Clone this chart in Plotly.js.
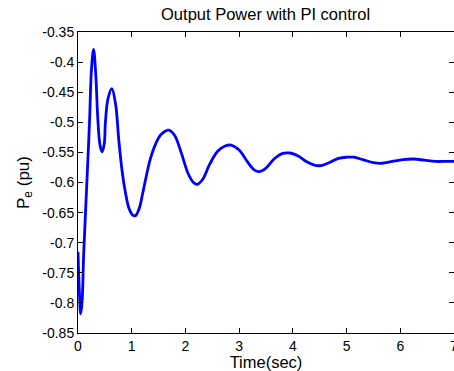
<!DOCTYPE html>
<html>
<head>
<meta charset="utf-8">
<script src="https://cdn.plot.ly/plotly-3.0.1.min.js"></script>
<style>
html,body{margin:0;padding:0;background:#fff;}
#chart{width:454px;height:371px;}
</style>
</head>
<body>
<div id="chart"></div>
<script>
var timeSec = [0.00, 0.025, 0.05, 0.075, 0.105, 0.14, 0.17, 0.216, 0.25, 0.29, 0.33, 0.37, 0.41, 0.45, 0.49, 0.51, 0.56, 0.63, 0.70, 0.76, 0.82, 0.88, 0.95, 1.02, 1.07, 1.14, 1.20, 1.27, 1.35, 1.45, 1.55, 1.69, 1.80, 1.92, 2.05, 2.15, 2.22, 2.32, 2.45, 2.60, 2.75, 2.85, 3.00, 3.15, 3.28, 3.37, 3.50, 3.65, 3.80, 3.95, 4.10, 4.25, 4.40, 4.52, 4.65, 4.85, 5.00, 5.13, 5.30, 5.50, 5.66, 5.85, 6.05, 6.25, 6.45, 6.65, 6.85, 7.00];
var powerPu = [-0.715, -0.78, -0.818, -0.80, -0.72, -0.65, -0.59, -0.496, -0.413, -0.379, -0.42, -0.496, -0.538, -0.549, -0.535, -0.50, -0.46, -0.444, -0.47, -0.53, -0.58, -0.615, -0.643, -0.654, -0.655, -0.643, -0.62, -0.59, -0.56, -0.535, -0.52, -0.513, -0.522, -0.55, -0.585, -0.600, -0.603, -0.595, -0.57, -0.548, -0.539, -0.538, -0.546, -0.565, -0.579, -0.582, -0.576, -0.561, -0.552, -0.551, -0.556, -0.565, -0.571, -0.572, -0.568, -0.560, -0.558, -0.558, -0.562, -0.567, -0.568, -0.565, -0.562, -0.561, -0.563, -0.565, -0.565, -0.565];
var xTickVals = [0, 1, 2, 3, 4, 5, 6, 7];
var xTickText = ["0", "1", "2", "3", "4", "5", "6", "7"];
var yTickVals = [-0.85, -0.8, -0.75, -0.7, -0.65, -0.6, -0.55, -0.5, -0.45, -0.4, -0.35];
var yTickText = ["-0.85", "-0.8", "-0.75", "-0.7", "-0.65", "-0.6", "-0.55", "-0.5", "-0.45", "-0.4", "-0.35"];

var font = "Arial, 'Liberation Sans', sans-serif";
var trace = {
  x: timeSec, y: powerPu, type: 'scatter', mode: 'lines',
  line: {color: '#0000ff', width: 2.8, shape: 'spline', smoothing: 1},
  hoverinfo: 'none'
};
var axisCommon = {
  showgrid: false, zeroline: false, showline: true, linecolor: '#000', linewidth: 1,
  ticks: 'inside', ticklen: 5, tickcolor: '#000', mirror: 'ticks',
  ticklabeloverflow: 'allow',
  tickfont: {family: font, size: 14, color: '#000'}
};
var layout = {
  width: 454, height: 371,
  margin: {l: 78, r: 0, t: 32, b: 38},
  paper_bgcolor: '#fff', plot_bgcolor: '#fff',
  showlegend: false,
  title: {text: 'Output Power with PI control', font: {family: font, size: 16.5, color: '#000'}, x: 0.585, xanchor: 'center', y: 0.962, yanchor: 'middle'},
  xaxis: Object.assign({}, axisCommon, {
    range: [0, 7], tickmode: 'array', tickvals: xTickVals, ticktext: xTickText,
    title: {text: 'Time(sec)', font: {family: font, size: 16.5, color: '#000'}, standoff: 2}
  }),
  yaxis: Object.assign({}, axisCommon, {
    range: [-0.85, -0.35], tickmode: 'array', tickvals: yTickVals, ticktext: yTickText,
    title: {text: 'P<sub>e</sub> (pu)', font: {family: font, size: 17, color: '#000'}, standoff: 8}
  })
};
Plotly.newPlot('chart', [trace], layout, {staticPlot: true, displayModeBar: false});
</script>
</body>
</html>
